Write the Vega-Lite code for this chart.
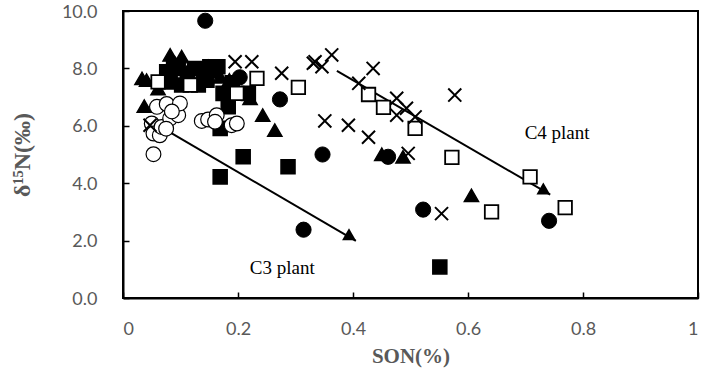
{
  "$schema": "https://vega.github.io/schema/vega-lite/v6.json",
  "width": 575,
  "height": 287,
  "autosize": {"type": "none"},
  "padding": {"left": 123, "top": 11, "right": 3, "bottom": 83},
  "background": "white",
  "config": {
    "view": {"stroke": "black", "strokeWidth": 2},
    "axis": {
      "grid": false,
      "domainColor": "black",
      "domainWidth": 2,
      "tickColor": "black",
      "tickWidth": 1.5,
      "tickSize": -6,
      "labelFont": "Lato",
      "labelFontSize": 18,
      "labelColor": "#595959",
      "titleFont": "Liberation Serif",
      "titleFontWeight": "bold",
      "titleFontSize": 21,
      "titleColor": "#595959"
    }
  },
  "datasets": {
    "pts": [
      {"x": 0.076, "y": 7.88, "m": "fs"}, {"x": 0.082, "y": 7.53, "m": "fs"}, {"x": 0.096, "y": 8.0, "m": "fs"},
      {"x": 0.102, "y": 7.42, "m": "fs"}, {"x": 0.125, "y": 8.0, "m": "fs"}, {"x": 0.131, "y": 7.42, "m": "fs"},
      {"x": 0.146, "y": 7.59, "m": "fs"}, {"x": 0.151, "y": 8.06, "m": "fs"}, {"x": 0.165, "y": 8.06, "m": "fs"},
      {"x": 0.112, "y": 7.75, "m": "fs"}, {"x": 0.14, "y": 7.85, "m": "fs"}, {"x": 0.174, "y": 7.13, "m": "fs"},
      {"x": 0.218, "y": 7.13, "m": "fs"}, {"x": 0.183, "y": 6.66, "m": "fs"}, {"x": 0.169, "y": 5.91, "m": "fs"},
      {"x": 0.209, "y": 4.92, "m": "fs"}, {"x": 0.169, "y": 4.22, "m": "fs"}, {"x": 0.287, "y": 4.57, "m": "fs"},
      {"x": 0.551, "y": 1.08, "m": "fs"}, {"x": 0.088, "y": 8.1, "m": "fs"}, {"x": 0.19, "y": 7.5, "m": "fs"},
      {"x": 0.033, "y": 7.65, "m": "ft"}, {"x": 0.041, "y": 7.59, "m": "ft"}, {"x": 0.037, "y": 6.69, "m": "ft"},
      {"x": 0.061, "y": 7.3, "m": "ft"}, {"x": 0.082, "y": 8.47, "m": "ft"}, {"x": 0.102, "y": 8.41, "m": "ft"},
      {"x": 0.09, "y": 8.2, "m": "ft"}, {"x": 0.115, "y": 8.0, "m": "ft"}, {"x": 0.155, "y": 7.9, "m": "ft"},
      {"x": 0.169, "y": 7.71, "m": "ft"}, {"x": 0.185, "y": 7.6, "m": "ft"}, {"x": 0.221, "y": 6.96, "m": "ft"},
      {"x": 0.243, "y": 6.37, "m": "ft"}, {"x": 0.264, "y": 5.85, "m": "ft"}, {"x": 0.45, "y": 5.01, "m": "ft"},
      {"x": 0.487, "y": 4.92, "m": "ft"}, {"x": 0.606, "y": 3.58, "m": "ft"}, {"x": 0.072, "y": 7.55, "m": "ft"},
      {"x": 0.143, "y": 9.66, "m": "fc"}, {"x": 0.203, "y": 7.69, "m": "fc"}, {"x": 0.273, "y": 6.92, "m": "fc"},
      {"x": 0.347, "y": 5.0, "m": "fc"}, {"x": 0.461, "y": 4.92, "m": "fc"}, {"x": 0.522, "y": 3.08, "m": "fc"},
      {"x": 0.314, "y": 2.38, "m": "fc"}, {"x": 0.741, "y": 2.69, "m": "fc"}, {"x": 0.148, "y": 8.05, "m": "fc"},
      {"x": 0.158, "y": 7.95, "m": "fc"},
      {"x": 0.061, "y": 7.53, "m": "os"}, {"x": 0.117, "y": 7.42, "m": "os"}, {"x": 0.233, "y": 7.65, "m": "os"},
      {"x": 0.305, "y": 7.34, "m": "os"}, {"x": 0.198, "y": 7.13, "m": "os"}, {"x": 0.427, "y": 7.09, "m": "os"},
      {"x": 0.453, "y": 6.64, "m": "os"}, {"x": 0.508, "y": 5.91, "m": "os"}, {"x": 0.572, "y": 4.9, "m": "os"},
      {"x": 0.641, "y": 3.0, "m": "os"}, {"x": 0.708, "y": 4.22, "m": "os"}, {"x": 0.769, "y": 3.15, "m": "os"},
      {"x": 0.053, "y": 5.01, "m": "oc"}, {"x": 0.05, "y": 6.08, "m": "oc"}, {"x": 0.053, "y": 5.73, "m": "oc"},
      {"x": 0.064, "y": 5.67, "m": "oc"}, {"x": 0.067, "y": 5.96, "m": "oc"}, {"x": 0.059, "y": 6.66, "m": "oc"},
      {"x": 0.076, "y": 6.76, "m": "oc"}, {"x": 0.082, "y": 6.26, "m": "oc"}, {"x": 0.096, "y": 6.37, "m": "oc"},
      {"x": 0.099, "y": 6.78, "m": "oc"}, {"x": 0.137, "y": 6.17, "m": "oc"}, {"x": 0.148, "y": 6.22, "m": "oc"},
      {"x": 0.163, "y": 6.37, "m": "oc"}, {"x": 0.16, "y": 6.14, "m": "oc"}, {"x": 0.189, "y": 6.02, "m": "oc"},
      {"x": 0.198, "y": 6.08, "m": "oc"}, {"x": 0.075, "y": 5.9, "m": "oc"}, {"x": 0.085, "y": 6.5, "m": "oc"},
      {"x": 0.195, "y": 8.23, "m": "x"}, {"x": 0.224, "y": 8.23, "m": "x"}, {"x": 0.276, "y": 7.83, "m": "x"},
      {"x": 0.331, "y": 8.18, "m": "x"}, {"x": 0.334, "y": 8.23, "m": "x"}, {"x": 0.363, "y": 8.47, "m": "x"},
      {"x": 0.346, "y": 8.06, "m": "x"}, {"x": 0.435, "y": 8.0, "m": "x"}, {"x": 0.41, "y": 7.48, "m": "x"},
      {"x": 0.476, "y": 6.96, "m": "x"}, {"x": 0.493, "y": 6.61, "m": "x"}, {"x": 0.476, "y": 6.37, "m": "x"},
      {"x": 0.508, "y": 6.31, "m": "x"}, {"x": 0.577, "y": 7.07, "m": "x"}, {"x": 0.351, "y": 6.17, "m": "x"},
      {"x": 0.392, "y": 6.02, "m": "x"}, {"x": 0.427, "y": 5.6, "m": "x"}, {"x": 0.496, "y": 5.04, "m": "x"},
      {"x": 0.554, "y": 2.94, "m": "x"}, {"x": 0.047, "y": 6.02, "m": "x"}
    ],
    "arrows": [
      {"a": "C3", "x": 0.07, "y": 5.91}, {"a": "C3", "x": 0.405, "y": 1.99},
      {"a": "C4", "x": 0.372, "y": 7.91}, {"a": "C4", "x": 0.743, "y": 3.6}
    ],
    "heads": [
      {"a": "C3", "x": 0.396, "y": 2.12},
      {"a": "C4", "x": 0.734, "y": 3.71}
    ],
    "labels": [
      {"t": "C3 plant", "x": 0.277, "y": 1.04},
      {"t": "C4 plant", "x": 0.755, "y": 5.75}
    ]
  },
  "layer": [
    {
      "data": {"name": "arrows"},
      "mark": {"type": "line", "color": "black", "strokeWidth": 2},
      "encoding": {
        "x": {"field": "x", "type": "quantitative", "scale": {"domain": [0, 1]},
          "axis": {"values": [0, 0.2, 0.4, 0.6, 0.8, 1], "format": "~g", "labelPadding": 28, "title": "SON(%)",
            "titleX": 287.5, "titleY": 58, "titleBaseline": "middle"}},
        "y": {"field": "y", "type": "quantitative", "scale": {"domain": [0, 10]},
          "axis": {"values": [0, 1, 2, 3, 4, 5, 6, 7, 8, 9, 10], "format": ".1f", "labelPadding": 32, "labelOffset": 1,
            "title": "δ¹⁵N(‰)", "titleFontSize": 24, "titleX": -101, "titleY": 143.5, "titleBaseline": "middle", "titleAngle": -90}},
        "detail": {"field": "a"}
      }
    },
    {
      "data": {"name": "heads"},
      "mark": {"type": "point", "shape": "triangle-right", "angle": 30, "filled": true, "color": "black", "opacity": 1, "size": 190},
      "encoding": {
        "x": {"field": "x", "type": "quantitative"},
        "y": {"field": "y", "type": "quantitative"}
      }
    },
    {
      "data": {"name": "pts"},
      "mark": {"type": "point", "filled": true, "stroke": "black", "opacity": 1},
      "encoding": {
        "x": {"field": "x", "type": "quantitative"},
        "y": {"field": "y", "type": "quantitative"},
        "shape": {"field": "m", "type": "nominal", "legend": null,
          "scale": {"domain": ["fc", "oc", "ft", "fs", "os", "x"],
            "range": ["circle", "circle", "triangle-up", "square", "square", "M-1,-1L1,1M1,-1L-1,1"]}},
        "fill": {"field": "m", "type": "nominal", "legend": null,
          "scale": {"domain": ["fc", "oc", "ft", "fs", "os", "x"],
            "range": ["black", "white", "black", "black", "white", "black"]}},
        "size": {"field": "m", "type": "nominal", "legend": null,
          "scale": {"domain": ["fc", "oc", "ft", "fs", "os", "x"], "range": [230, 170, 190, 220, 170, 270]}},
        "strokeWidth": {"field": "m", "type": "nominal", "legend": null,
          "scale": {"domain": ["fc", "oc", "ft", "fs", "os", "x"], "range": [1, 2, 1, 1, 2, 2]}},
        "order": {"value": 0}
      }
    },
    {
      "data": {"name": "labels"},
      "mark": {"type": "text", "font": "Liberation Serif", "fontSize": 19, "color": "black"},
      "encoding": {
        "x": {"field": "x", "type": "quantitative"},
        "y": {"field": "y", "type": "quantitative"},
        "text": {"field": "t"}
      }
    }
  ]
}
